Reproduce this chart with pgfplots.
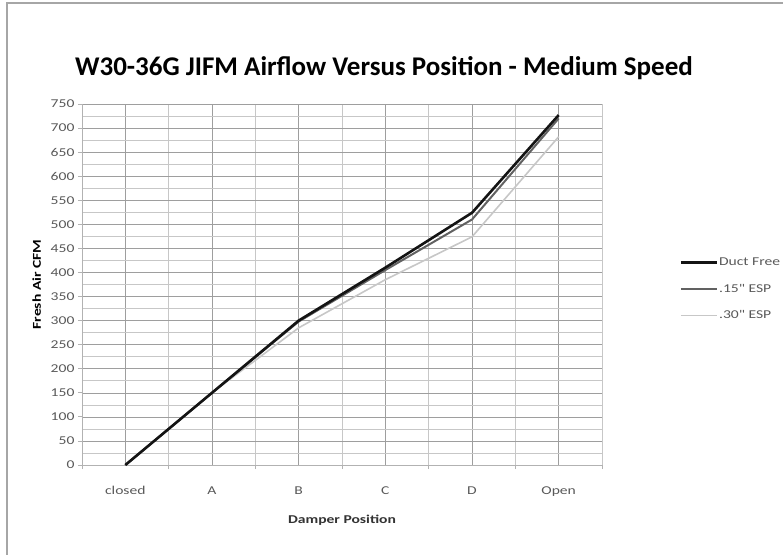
\documentclass[border=0pt]{standalone}
\usepackage{pgfplots}
\pgfplotsset{compat=1.18}
\usepackage{fontspec}
\setmainfont{Carlito}
\newfontfamily\widefont[FakeStretch=1.3]{Carlito}
\definecolor{gridmaj}{gray}{0.62}
\definecolor{gridmin}{gray}{0.78}
\definecolor{ticktxt}{gray}{0.35}
\begin{document}
\begin{tikzpicture}
\begin{axis}[
  name=ax,
  scale only axis, width=520pt, height=361pt,
  xmin=-0.5, xmax=5.5, ymin=0, ymax=750,
  xtick={0,...,5},
  xticklabels={closed,A,B,C,D,Open},
  minor xtick={-0.5,0.5,...,5.5},
  ytick={0,50,...,750},
  minor ytick={25,75,...,725},
  grid=both,
  major grid style={gridmaj, line width=0.6pt},
  minor grid style={gridmin, line width=0.6pt},
  axis line style={gray!60, line width=0.8pt},
  tick style={gray!60, line width=0.8pt},
  major x tick style={draw=none},
  minor y tick style={draw=none},
  tick align=outside,
  major tick length=4pt, minor tick length=4pt,
  axis x line*=bottom, axis y line*=left,
  xticklabel style={font=\widefont\fontsize{12}{13}\selectfont, text=ticktxt, yshift=-14pt},
  yticklabel style={font=\widefont\fontsize{12}{13}\selectfont, text=ticktxt},
  /pgf/number format/assume math mode=true,
  xlabel={\bfseries Damper Position},
  ylabel={\bfseries Fresh Air CFM},
  xlabel style={font=\widefont\fontsize{12}{13}\selectfont, text=black!80, yshift=-12pt},
  ylabel style={font=\widefont\fontsize{12}{13}\selectfont, text=black, yshift=3pt},
  legend style={at={(1.149,0.4875)}, anchor=west, draw=none, fill=none,
    font=\widefont\fontsize{12}{13}\selectfont, text=ticktxt, row sep=13pt,
    inner sep=0pt, outer sep=0pt,
    nodes={inner xsep=1pt}},
  legend cell align=left,
  legend image code/.code={\draw[#1] (0pt,0pt) -- (36pt,0pt);},
  reverse legend,
  clip=false,
]
\addplot[color=black!22, line width=1.6pt] coordinates {
  (0,0) (1,150) (2,285) (3,385) (4,474) (5,682)};
\addlegendentry{.30" ESP}
\addplot[color=black!62, line width=2pt] coordinates {
  (0,0) (1,150) (2,298) (3,405) (4,510) (5,720)};
\addlegendentry{.15" ESP}
\addplot[color=black!92, line width=2.6pt] coordinates {
  (0,0) (1,150) (2,300) (3,410) (4,524) (5,727)};
\addlegendentry{Duct Free}
\end{axis}
\begin{scope}[shift={(ax.south west)}, x=1pt, y=1pt]
\path[use as bounding box] (-82,-89) rectangle (701,465);
\draw[gray!70, line width=1.2pt] (-75,-90) -- (-75,462) -- (702,462);
\node[font=\bfseries\fontsize{27}{31}\selectfont] at (302,397) {W30-36G JIFM Airflow Versus Position - Medium Speed};
\end{scope}
\end{tikzpicture}
\end{document}
